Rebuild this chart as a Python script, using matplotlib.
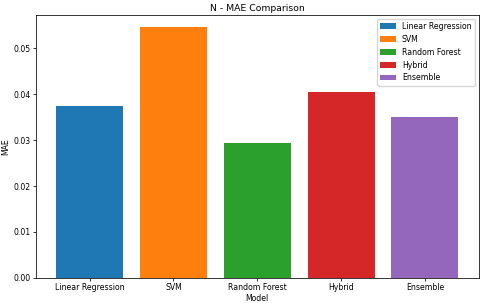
import matplotlib
matplotlib.use("Agg")
import matplotlib.pyplot as plt

models = ["Linear Regression", "SVM", "Random Forest", "Hybrid", "Ensemble"]
mae = [0.0375, 0.0546, 0.0293, 0.0406, 0.0350]
colors = ["#1f77b4", "#ff7f0e", "#2ca02c", "#d62728", "#9467bd"]

plt.rcParams["font.size"] = 5.6
plt.rcParams["axes.linewidth"] = 0.55
plt.rcParams["xtick.major.width"] = 0.55
plt.rcParams["ytick.major.width"] = 0.55
plt.rcParams["xtick.major.size"] = 2.0
plt.rcParams["ytick.major.size"] = 2.0
plt.rcParams["xtick.major.pad"] = 2.0
plt.rcParams["ytick.major.pad"] = 2.0

fig, ax = plt.subplots(figsize=(4.8, 3.03), dpi=100)
fig.subplots_adjust(left=0.075, right=0.997, top=0.951, bottom=0.083)

for m, v, c in zip(models, mae, colors):
    ax.bar(m, v, color=c, label=m, width=0.8)

ax.set_title("N - MAE Comparison", fontsize=6.7, pad=3)
ax.set_xlabel("Model", labelpad=1.5)
ax.set_ylabel("MAE", labelpad=2)
ax.legend(loc="upper right", fontsize=5.6, borderpad=0.4, labelspacing=0.5,
          handlelength=2.0, handleheight=0.7)

fig.savefig("out.png", dpi=100)
